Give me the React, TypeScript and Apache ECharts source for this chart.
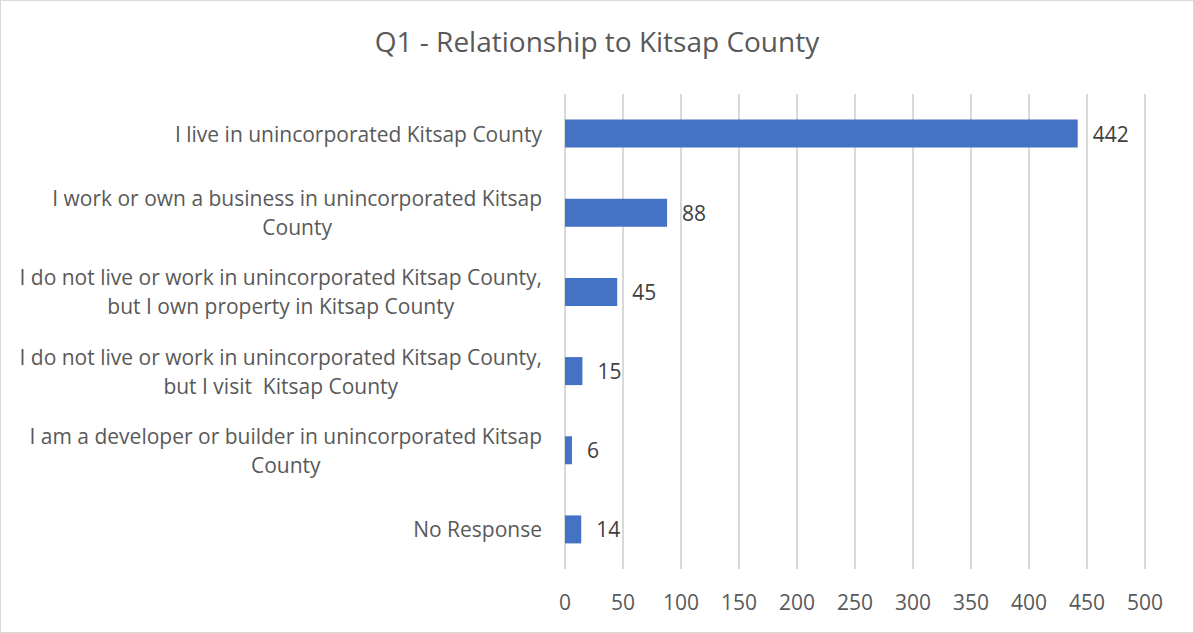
import React, { useEffect, useRef } from "react";
import * as echarts from "echarts";

const title = "Q1 - Relationship to Kitsap County";
const categories = [
  "I live in unincorporated Kitsap County",
  "I work or own a business in unincorporated Kitsap\nCounty",
  "I do not live or work in unincorporated Kitsap County,\nbut I own property in Kitsap County",
  "I do not live or work in unincorporated Kitsap County,\nbut I visit  Kitsap County",
  "I am a developer or builder in unincorporated Kitsap\nCounty",
  "No Response",
];
const values = [442, 88, 45, 15, 6, 14];
const xTicks = { min: 0, max: 500, interval: 50 };

const FONT = "Open Sans";
const TEXT = "#595959";

export default function App() {
  const ref = useRef<HTMLDivElement>(null);
  useEffect(() => {
    if (!ref.current) return;
    const chart = echarts.init(ref.current, undefined, { renderer: "svg" });
    chart.setOption({
      animation: false,
      backgroundColor: "#ffffff",
      title: {
        text: title,
        left: "center",
        top: 21,
        textStyle: { fontFamily: FONT, fontSize: 28, fontWeight: "normal", color: TEXT },
      },
      grid: { left: 564, right: 48, top: 93, bottom: 63, containLabel: false },
      xAxis: {
        type: "value",
        min: xTicks.min,
        max: xTicks.max,
        interval: xTicks.interval,
        axisLine: { show: false },
        axisTick: { show: false },
        splitLine: { show: true, lineStyle: { color: "#d9d9d9", width: 2 } },
        axisLabel: { fontFamily: FONT, fontSize: 21, color: TEXT, margin: 22 },
      },
      yAxis: {
        type: "category",
        inverse: true,
        data: categories,
        axisLine: { show: false },
        axisTick: { show: false },
        axisLabel: {
          margin: 23,
          formatter: (v: string) =>
            v
              .split("\n")
              .map((l) => `{c|${l}}`)
              .join("\n"),
          rich: {
            c: { fontFamily: FONT, fontSize: 21, color: TEXT, align: "center", lineHeight: 29 },
          },
        },
      },
      series: [
        {
          type: "bar",
          data: values,
          barWidth: 28,
          itemStyle: { color: "#4472c4" },
          label: {
            show: true,
            position: "right",
            distance: 15,
            fontFamily: FONT,
            fontSize: 21,
            color: "#404040",
          },
        },
      ],
    });
    return () => chart.dispose();
  }, []);
  return (
    <div
      ref={ref}
      style={{
        position: "fixed",
        left: 0,
        top: 0,
        width: 1194,
        height: 633,
        boxSizing: "border-box",
        border: "1px solid #d9d9d9",
        background: "#fff",
      }}
    />
  );
}
